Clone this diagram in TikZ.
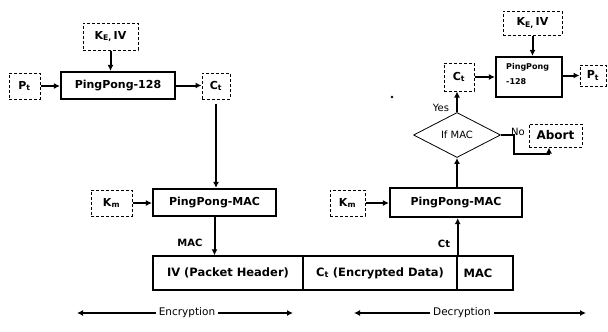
\documentclass[tikz,border=0pt]{standalone}
\usepackage{fontspec}
\setmainfont{DejaVu Sans}
\usetikzlibrary{arrows.meta,shapes.geometric}
\tikzset{
  dbox/.style={draw,dash pattern=on 3pt off 2pt,line width=1pt,inner sep=0pt,font=\bfseries\fontsize{11}{13}\selectfont},
  pbox/.style={draw,line width=2.2pt,inner sep=0pt,font=\bfseries\fontsize{11}{13}\selectfont},
  kbox/.style={draw,line width=1.4pt,inner sep=0pt,font=\bfseries\fontsize{11.5}{13}\selectfont},
  arr/.style={line width=2pt,-{Latex[length=6pt,width=6pt]}},
  lbl/.style={inner sep=0pt,font=\fontsize{10}{12}\selectfont},
}
\begin{document}
\begin{tikzpicture}[x=1pt,y=-1pt]
\useasboundingbox (0,0) rectangle (608,332);
% ---------- encryption side ----------
\node[dbox,minimum width=55,minimum height=27] (keiv1) at (110.5,36.5) {K\textsubscript{E,}\,IV};
\node[dbox,minimum width=31,minimum height=26] (pt1) at (24.5,86) {P\textsubscript{t}};
\node[pbox,minimum width=114,minimum height=27] (pp128) at (118,85.5) {PingPong-128};
\node[dbox,minimum width=28,minimum height=26] (ct1) at (216,86) {C\textsubscript{t}};
\node[dbox,minimum width=41,minimum height=26] (km1) at (111.5,203) {K\textsubscript{m}};
\node[pbox,minimum width=123,minimum height=27] (mac1) at (214.5,202.5) {PingPong-MAC};
\node[lbl,font=\bfseries\fontsize{10}{11}\selectfont] (macl) at (190,243) {MAC};
% ---------- packet ----------
\node[kbox,minimum width=150,minimum height=34] (iv) at (228,273) {IV (Packet Header)};
\node[kbox,minimum width=154,minimum height=34] (ctd) at (380,273) {C\textsubscript{t} (Encrypted Data)};
\node[kbox,minimum width=56,minimum height=34] (macp) at (485,273) {\hspace*{-14pt}MAC};
% ---------- decryption side ----------
\node[dbox,minimum width=59,minimum height=24] (keiv2) at (532.5,23) {K\textsubscript{E,}\,IV};
\node[pbox,minimum width=66,minimum height=40] (pp2) at (529,77) {};
\node[inner sep=0pt,anchor=north west,align=left,font=\bfseries\fontsize{8}{15}\selectfont] (pp2t) at (506,63) {PingPong\\-128};
\node[dbox,minimum width=30,minimum height=28] (ct2) at (459,77) {C\textsubscript{t}};
\node[dbox,minimum width=26,minimum height=21] (pt2) at (593,75.5) {P\textsubscript{t}};
\node[diamond,draw,line width=0.8pt,minimum width=87,minimum height=45,inner sep=0pt,aspect=1.9,font=\fontsize{10}{12}\selectfont] (dia) at (457,135) {If MAC};
\node[dbox,minimum width=53,minimum height=23,font=\bfseries\fontsize{12}{14}\selectfont] (abort) at (555.5,135.5) {Abort};
\node[pbox,minimum width=132,minimum height=29] (mac2) at (456,202.5) {PingPong-MAC};
\node[dbox,minimum width=35,minimum height=26] (km2) at (347.5,203) {K\textsubscript{m}};
\node[lbl] (yes) at (441,108) {Yes};
\node[lbl] (no) at (518,132) {No};
\node[lbl,font=\bfseries\fontsize{10}{11}\selectfont] (ctl) at (444,244) {Ct};
\fill (392,97) circle (1.3);
% ---------- connectors ----------
\draw[arr] (keiv1.south) -- (keiv1.south |- pp128.north);
\draw[arr] (pt1.east) -- (pt1.east -| pp128.west);
\draw[arr] (pp128.east) -- (pp128.east -| ct1.west);
\draw[arr] ([yshift=-4pt]ct1.south) -- (ct1.south |- mac1.north);
\draw[arr] (km1.east) -- (km1.east -| mac1.west);
\draw[arr] (mac1.south) -- (mac1.south |- iv.north);
\draw[arr] (ctd.north east) -- (ctd.north east |- mac2.south);
\draw[arr] (km2.east) -- (km2.east -| mac2.west);
\draw[arr] (dia.south |- mac2.north) -- (dia.south);
\draw[arr] (dia.north) -- (dia.north |- ct2.south);
\draw[arr] (ct2.east) -- (ct2.east -| pp2.west);
\draw[arr] (keiv2.south) -- (keiv2.south |- pp2.north);
\draw[arr] (pp2.east |- pt2.west) -- (pt2.west);
\coordinate (nb) at (514,154);
\coordinate (na) at (549,154);
\draw[arr] (dia.east) -| (nb) -- (na) -- (na |- abort.south);
% ---------- direction arrows ----------
\node[lbl,font=\fontsize{10.5}{12}\selectfont] (enc) at (187,313) {Encryption};
\node[lbl,font=\fontsize{10.5}{12}\selectfont] (dec) at (462,313) {Decryption};
\coordinate (encl) at (77,313);
\coordinate (encr) at (293,313);
\coordinate (decl) at (354,313);
\coordinate (decr) at (586,313);
\draw[arr] ([xshift=-3pt]enc.west) -- (encl);
\draw[arr] ([xshift=3pt]enc.east) -- (encr);
\draw[arr] ([xshift=-3pt]dec.west) -- (decl);
\draw[arr] ([xshift=3pt]dec.east) -- (decr);
\end{tikzpicture}
\end{document}
